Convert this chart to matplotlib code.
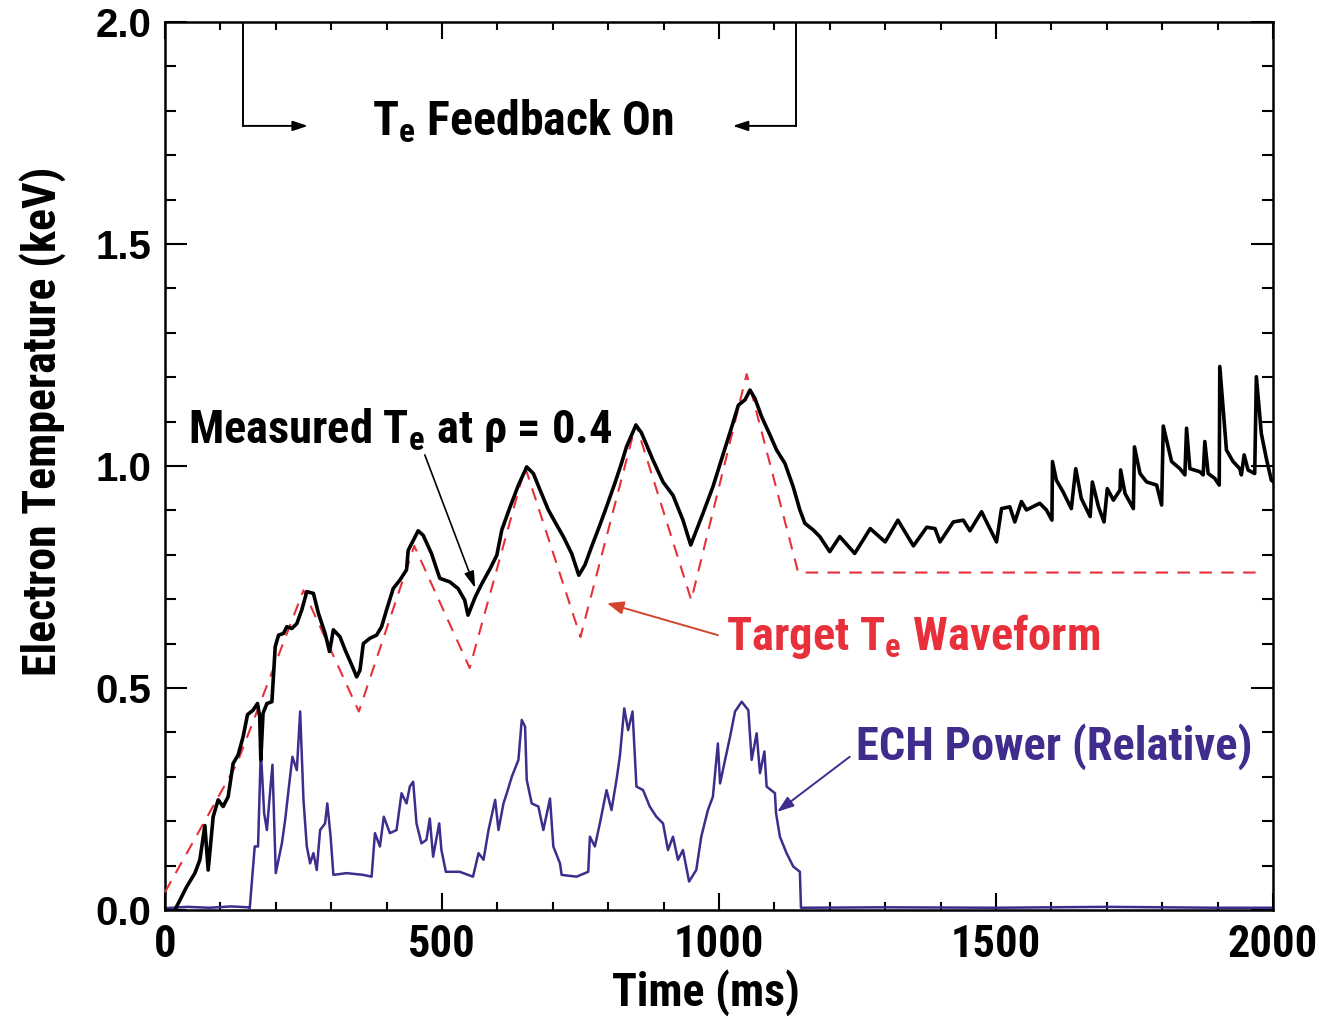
import matplotlib
matplotlib.use('Agg')
import matplotlib.pyplot as plt
from matplotlib import font_manager as fm
from matplotlib.ticker import MultipleLocator

# target Te waveform (keV) vs time (ms)
t_target = [0, 130, 250, 350, 450, 550, 650, 750, 850, 950, 1050, 1143, 1980]
te_target = [0.04, 0.33, 0.72, 0.447, 0.82, 0.545, 0.998, 0.615, 1.095, 0.698, 1.207, 0.76, 0.76]

# measured Te at rho = 0.4
t_meas = [18, 39, 54, 63, 72, 78, 87, 96, 105, 114, 123, 132, 141, 149, 159, 167,
          171, 173, 177, 184, 193, 199, 205, 214, 220, 229, 238, 247, 256, 268,
          277, 289, 297, 304, 316, 325, 337, 346, 352, 358, 370, 382, 391, 400,
          412, 424, 436, 439, 457, 466, 481, 496, 514, 529, 541, 547, 560, 572,
          587, 599, 608, 623, 638, 653, 665, 677, 692, 704, 719, 734, 747, 758,
          770, 785, 797, 812, 824, 833, 850, 860, 881, 899, 917, 935, 949, 971,
          989, 1008, 1023, 1035, 1047, 1056, 1065, 1077, 1092, 1104, 1119, 1134,
          1146, 1155, 1170, 1182, 1200, 1218, 1245, 1273, 1300, 1323, 1351, 1375,
          1390, 1399, 1423, 1441, 1453, 1474, 1483, 1501, 1510, 1525, 1534, 1546,
          1555, 1579, 1591, 1601, 1602, 1609, 1621, 1636, 1644, 1654, 1670, 1674,
          1685, 1695, 1701, 1712, 1724, 1725, 1733, 1748, 1750, 1760, 1772, 1790,
          1799, 1802, 1817, 1832, 1841, 1844, 1850, 1868, 1874, 1877, 1883, 1895,
          1903, 1904, 1916, 1928, 1940, 1943, 1948, 1955, 1967, 1970, 1979, 1988,
          1997, 2000]
te_meas = [0.0, 0.052, 0.083, 0.113, 0.19, 0.09, 0.21, 0.248, 0.233, 0.255, 0.33,
           0.349, 0.39, 0.44, 0.45, 0.465, 0.435, 0.338, 0.443, 0.465, 0.469,
           0.593, 0.619, 0.623, 0.638, 0.634, 0.645, 0.676, 0.717, 0.713, 0.668,
           0.623, 0.582, 0.631, 0.615, 0.586, 0.552, 0.525, 0.54, 0.6, 0.612,
           0.619, 0.638, 0.676, 0.724, 0.743, 0.766, 0.81, 0.854, 0.844, 0.803,
           0.747, 0.739, 0.724, 0.698, 0.664, 0.705, 0.735, 0.769, 0.799, 0.856,
           0.908, 0.957, 0.998, 0.983, 0.946, 0.901, 0.874, 0.841, 0.803, 0.754,
           0.777, 0.818, 0.867, 0.908, 0.961, 1.006, 1.043, 1.092, 1.075, 1.013,
           0.964, 0.934, 0.878, 0.822, 0.893, 0.953, 1.028, 1.088, 1.137, 1.149,
           1.171, 1.152, 1.111, 1.07, 1.036, 1.006, 0.953, 0.901, 0.871, 0.856,
           0.841, 0.807, 0.841, 0.803, 0.859, 0.829, 0.878, 0.82, 0.862, 0.859,
           0.829, 0.874, 0.878, 0.854, 0.897, 0.874, 0.829, 0.904, 0.908, 0.874,
           0.92, 0.901, 0.916, 0.901, 0.878, 1.01, 0.968, 0.942, 0.904, 0.994,
           0.927, 0.886, 0.964, 0.908, 0.874, 0.949, 0.923, 0.946, 0.991, 0.938,
           0.904, 1.043, 0.983, 0.964, 0.957, 0.912, 1.09, 1.01, 0.994, 0.98,
           1.085, 0.994, 0.987, 0.98, 1.055, 0.983, 0.972, 0.957, 1.224, 1.036,
           1.01, 0.994, 0.98, 1.025, 0.991, 0.983, 1.201, 1.073, 1.017, 0.968,
           0.965]

# ECH power (relative units on the same axis)
t_ech = [0, 40, 80, 120, 150, 153, 162, 168, 173, 179, 184, 190, 194, 200, 211,
         217, 223, 230, 238, 244, 250, 256, 262, 268, 274, 280, 289, 293, 299,
         304, 328, 358, 373, 379, 388, 395, 406, 418, 427, 436, 442, 448, 454,
         463, 472, 478, 484, 495, 499, 507, 532, 556, 566, 575, 584, 596, 602,
         611, 617, 626, 638, 644, 650, 653, 662, 674, 683, 695, 701, 713, 716,
         743, 764, 767, 776, 785, 797, 806, 815, 821, 829, 836, 844, 851, 863,
         875, 887, 899, 908, 917, 926, 935, 946, 959, 968, 980, 989, 998, 1002,
         1011, 1020, 1029, 1041, 1053, 1059, 1068, 1074, 1082, 1086, 1101, 1103,
         1110, 1122, 1134, 1146, 1148, 1300, 1500, 1700, 1900, 2000]
p_ech = [0.004, 0.007, 0.005, 0.008, 0.006, 0.004, 0.143, 0.143, 0.36, 0.218,
         0.18, 0.27, 0.327, 0.083, 0.15, 0.203, 0.27, 0.345, 0.315, 0.447, 0.248,
         0.143, 0.105, 0.128, 0.09, 0.18, 0.195, 0.24, 0.165, 0.079, 0.083,
         0.079, 0.075, 0.173, 0.143, 0.21, 0.173, 0.18, 0.263, 0.24, 0.278,
         0.289, 0.195, 0.15, 0.158, 0.206, 0.12, 0.195, 0.135, 0.086, 0.086,
         0.075, 0.128, 0.113, 0.18, 0.248, 0.18, 0.24, 0.263, 0.3, 0.338, 0.428,
         0.413, 0.293, 0.24, 0.233, 0.18, 0.251, 0.143, 0.105, 0.079, 0.075,
         0.086, 0.165, 0.143, 0.195, 0.27, 0.225, 0.293, 0.345, 0.454, 0.405,
         0.447, 0.278, 0.27, 0.233, 0.21, 0.195, 0.135, 0.165, 0.113, 0.135,
         0.064, 0.09, 0.165, 0.225, 0.255, 0.375, 0.285, 0.338, 0.39, 0.447,
         0.469, 0.45, 0.338, 0.398, 0.308, 0.357, 0.278, 0.263, 0.218, 0.165,
         0.128, 0.098, 0.086, 0.005, 0.006, 0.005, 0.007, 0.005, 0.005]


def first_font(names):
    for n in names:
        try:
            fm.findfont(fm.FontProperties(family=n), fallback_to_default=False)
            return n
        except ValueError:
            pass
    return 'DejaVu Sans'


cond = first_font(['Roboto Condensed', 'Liberation Sans Narrow', 'Open Sans Condensed',
                   'IBM Plex Sans Condensed', 'DejaVu Sans'])
plt.rcParams['font.family'] = [cond, 'DejaVu Sans']
plt.rcParams['font.weight'] = 'bold'
plt.rcParams['axes.labelweight'] = 'bold'
plt.rcParams['mathtext.fontset'] = 'custom'
plt.rcParams['mathtext.rm'] = cond + ':bold'
plt.rcParams['mathtext.it'] = cond + ':bold'
plt.rcParams['mathtext.bf'] = cond + ':bold'

red = '#e8303a'
purple = '#3f2c8c'
arrow_red = '#d2452a'

fig = plt.figure(figsize=(13.38, 10.19), dpi=100)
ax = fig.add_axes([0.1233, 0.107, 0.8281, 0.8714])

ax.plot(t_ech, p_ech, color=purple, lw=1.8, zorder=2)
ax.plot(t_target, te_target, color=red, lw=1.5, dashes=(6, 4.5), zorder=3)
ax.plot(t_meas, te_meas, color='black', lw=2.6, zorder=4)

ax.set_xlim(0, 2000)
ax.set_ylim(0, 2.0)
ax.xaxis.set_major_locator(MultipleLocator(500))
ax.xaxis.set_minor_locator(MultipleLocator(100))
ax.yaxis.set_major_locator(MultipleLocator(0.5))
ax.yaxis.set_minor_locator(MultipleLocator(0.1))
ax.yaxis.set_major_formatter(plt.FormatStrFormatter('%.1f'))
ax.tick_params(axis='both', which='both', direction='in', top=True, right=True, width=1.5)
ax.tick_params(axis='y', which='major', length=16, pad=10)
ax.tick_params(axis='y', which='minor', length=8)
ax.tick_params(axis='x', which='major', length=12, pad=10)
ax.tick_params(axis='x', which='minor', length=6)
for lab in ax.get_yticklabels():
    lab.set_family('Liberation Sans')
    lab.set_fontsize(29)
    lab.set_fontweight('bold')
for lab in ax.get_xticklabels():
    lab.set_fontsize(32)
    lab.set_fontweight('bold')
for sp in ax.spines.values():
    sp.set_linewidth(1.8)

ax.set_xlabel('Time (ms)', fontsize=33)
ax.set_ylabel('Electron Temperature (keV)', fontsize=33)
ax.xaxis.set_label_coords(0.488, -0.066)
ax.yaxis.set_label_coords(-0.089, 0.55)

# feedback-on bracket
ax.plot([141, 141], [2.0, 1.766], color='black', lw=1.4)
ax.plot([1139, 1139], [2.0, 1.766], color='black', lw=1.4)
ax.annotate('', xy=(258, 1.766), xytext=(141, 1.766),
            arrowprops=dict(arrowstyle='-|>,head_length=0.9,head_width=0.3', color='black', lw=1.4,
                            shrinkA=0, shrinkB=0))
ax.annotate('', xy=(1025, 1.766), xytext=(1139, 1.766),
            arrowprops=dict(arrowstyle='-|>,head_length=0.9,head_width=0.3', color='black', lw=1.4,
                            shrinkA=0, shrinkB=0))
ax.text(373, 1.745, r'T$_\mathrm{e}$ Feedback On', fontsize=34.5, ha='left', va='baseline')

# curve labels
ax.text(41, 1.052, r'Measured T$_\mathrm{e}$ at ρ = 0.4', fontsize=33.5, ha='left', va='baseline')
ax.annotate('', xy=(560, 0.725), xytext=(469, 1.025),
            arrowprops=dict(arrowstyle='-|>,head_length=1.0,head_width=0.3', color='black', lw=1.2,
                            shrinkA=0, shrinkB=0))

ax.text(1012, 0.586, r'Target T$_\mathrm{e}$ Waveform', fontsize=33.5, color=red, ha='left', va='baseline')
ax.annotate('', xy=(798, 0.691), xytext=(998, 0.619),
            arrowprops=dict(arrowstyle='-|>,head_length=1.0,head_width=0.4', color=arrow_red, lw=1.4,
                            shrinkA=0, shrinkB=0))

ax.text(1247, 0.338, 'ECH Power (Relative)', fontsize=33.5, color=purple, ha='left', va='baseline')
ax.annotate('', xy=(1105, 0.221), xytext=(1236, 0.345),
            arrowprops=dict(arrowstyle='-|>,head_length=1.0,head_width=0.35', color=purple, lw=1.4,
                            shrinkA=0, shrinkB=0))

fig.savefig('out.png', dpi=100)
